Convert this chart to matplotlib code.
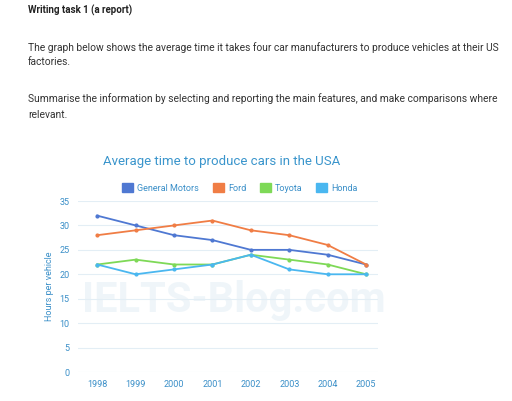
import matplotlib.pyplot as plt

years = [1998, 1999, 2000, 2001, 2002, 2003, 2004, 2005]
gm = [32, 30, 28, 27, 25, 25, 24, 22]
ford = [28, 29, 30, 31, 29, 28, 26, 22]
toyota = [22, 23, 22, 22, 24, 23, 22, 20]
honda = [22, 20, 21, 22, 24, 21, 20, 20]
names = ["General Motors", "Ford", "Toyota", "Honda"]
colors = ["#4f78d2", "#f07d45", "#7ed957", "#4ab7f0"]

plt.rcParams['font.family'] = ['Roboto', 'DejaVu Sans']
fig = plt.figure(figsize=(5.12, 4.01), dpi=100)

fig.text(28/512, 1-10/401, "Writing task 1 (a report)", fontsize=7, weight='bold', va='center', color='#222222')
fig.text(28/512, 1-48/401, "The graph below shows the average time it takes four car manufacturers to produce vehicles at their US",
         fontsize=7.4, va='center', color='#333333')
fig.text(28/512, 1-62/401, "factories.", fontsize=7.4, va='center', color='#333333')
fig.text(28/512, 1-99/401, "Summarise the information by selecting and reporting the main features, and make comparisons where",
         fontsize=7.4, va='center', color='#333333')
fig.text(28/512, 1-115/401, "relevant.", fontsize=7.4, va='center', color='#333333')
fig.text(222/512, 1-162/401, "Average time to produce cars in the USA", fontsize=9.5, ha='center', va='center', color='#3a95cc')

ax = fig.add_axes([78/512, 1-372/401, 300/512, 171/401])
for ys, n, c in zip([gm, ford, toyota, honda], names, colors):
    ax.plot(years, ys, color=c, lw=1.3, marker='o', ms=2, label=n)
ax.set_ylim(0, 35)
ax.set_xlim(1997.5, 2005.31)
ax.set_yticks(range(0, 36, 5))
ax.set_xticks(years)
ax.grid(axis='y', color='#e3eef5', lw=0.8)
ax.set_axisbelow(True)
for s in ax.spines.values():
    s.set_visible(False)
ax.tick_params(length=0, labelsize=6.5, labelcolor='#3a8fc8', pad=6)
ax.set_ylabel("Hours per vehicle", fontsize=6.5, color='#3a8fc8', labelpad=4)
ax.text(0.52, 0.42, "IELTS-Blog.com", transform=ax.transAxes, ha='center', va='center',
        fontsize=30, color='#d8e8f2', alpha=0.4, weight='bold', zorder=0)

handles = [plt.Rectangle((0, 0), 1, 1, color=c) for c in colors]
fig.legend(handles, names, loc='center', bbox_to_anchor=(240/512, 1-188/401), ncol=4, frameon=False,
           fontsize=6.5, handlelength=1.2, handleheight=1.0, columnspacing=1.5, handletextpad=0.5,
           labelcolor='#3a8fc8')

fig.savefig("out.png", dpi=100)
